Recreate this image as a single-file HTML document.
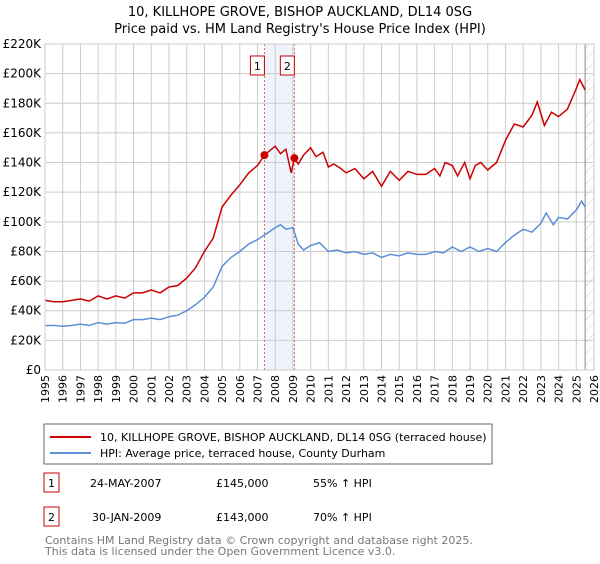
<!DOCTYPE html>
<html><head><meta charset="utf-8"><style>
body{margin:0;background:#fff;font-family:"DejaVu Sans","Liberation Sans",sans-serif;}
svg text{font-family:"DejaVu Sans","Liberation Sans",sans-serif;}
</style></head><body>
<svg id="chart" width="600" height="560" viewBox="0 0 600 560">
<text x="300" y="16" text-anchor="middle" font-size="13">10, KILLHOPE GROVE, BISHOP AUCKLAND, DL14 0SG</text>
<text x="300" y="33" text-anchor="middle" font-size="13">Price paid vs. HM Land Registry's House Price Index (HPI)</text>
<g id="grid"></g><g id="marks"></g>
<g>
<rect x="44" y="424" width="448" height="40" fill="#fff" stroke="#666"/>
<line x1="50" y1="437" x2="91" y2="437" stroke="#cc0000" stroke-width="2"/>
<text x="100" y="441" font-size="11">10, KILLHOPE GROVE, BISHOP AUCKLAND, DL14 0SG (terraced house)</text>
<line x1="50" y1="453" x2="91" y2="453" stroke="#5b8fd6" stroke-width="2"/>
<text x="100" y="457" font-size="11">HPI: Average price, terraced house, County Durham</text>
</g>
<g font-size="11">
<rect x="44" y="473" width="15" height="19" fill="#fff" stroke="#cc0000"/><text x="51.5" y="487" text-anchor="middle">1</text>
<text x="90" y="487">24-MAY-2007</text><text x="216" y="487">£145,000</text><text x="313" y="487">55% ↑ HPI</text>
<rect x="44" y="507" width="15" height="19" fill="#fff" stroke="#cc0000"/><text x="51.5" y="521" text-anchor="middle">2</text>
<text x="92" y="521">30-JAN-2009</text><text x="216" y="521">£143,000</text><text x="313" y="521">70% ↑ HPI</text>
</g>
<text x="45" y="544" font-size="11" fill="#777">Contains HM Land Registry data © Crown copyright and database right 2025.</text>
<text x="45" y="555" font-size="11" fill="#777">This data is licensed under the Open Government Licence v3.0.</text>
</svg>
<script>
const yearTicks=[1995,1996,1997,1998,1999,2000,2001,2002,2003,2004,2005,2006,2007,2008,2009,2010,2011,2012,2013,2014,2015,2016,2017,2018,2019,2020,2021,2022,2023,2024,2025,2026];
const priceTicks=[0,20,40,60,80,100,120,140,160,180,200,220];
const priceTickLabels=["£0","£20K","£40K","£60K","£80K","£100K","£120K","£140K","£160K","£180K","£200K","£220K"];
const hpiYears=[1995,1995.5,1996,1996.5,1997,1997.5,1998,1998.5,1999,1999.5,2000,2000.5,2001,2001.5,2002,2002.5,2003,2003.5,2004,2004.5,2005,2005.5,2006,2006.5,2007,2007.5,2008,2008.3,2008.6,2009,2009.3,2009.6,2010,2010.5,2011,2011.5,2012,2012.5,2013,2013.5,2014,2014.5,2015,2015.5,2016,2016.5,2017,2017.5,2018,2018.5,2019,2019.5,2020,2020.5,2021,2021.5,2022,2022.5,2023,2023.3,2023.7,2024,2024.5,2025,2025.3,2025.5];
const hpiValues=[30,30,29.5,30,31,30,32,31,32,31.5,34,34,35,34,36,37,40,44,49,56,70,76,80,85,88,92,96,98,95,96,85,81,84,86,80,81,79,80,78,79,76,78,77,79,78,78,80,79,83,80,83,80,82,80,86,91,95,93,99,106,98,103,102,108,114,110];
const priceYears=[1995,1995.5,1996,1996.5,1997,1997.5,1998,1998.5,1999,1999.5,2000,2000.5,2001,2001.5,2002,2002.5,2003,2003.5,2004,2004.5,2005,2005.5,2006,2006.5,2007,2007.39,2008,2008.3,2008.6,2008.9,2009.08,2009.3,2009.6,2010,2010.3,2010.7,2011,2011.3,2011.7,2012,2012.5,2013,2013.5,2014,2014.5,2015,2015.5,2016,2016.5,2017,2017.3,2017.6,2018,2018.3,2018.7,2019,2019.3,2019.6,2020,2020.5,2021,2021.5,2022,2022.5,2022.8,2023.2,2023.6,2024,2024.5,2025,2025.2,2025.5];
const priceValues=[47,46,46,47,48,46.5,50,48,50,48.5,52,52,54,52,56,57,62,69,80,89,110,118,125,133,138,145,151,146,149,133,143,139,145,150,144,147,137,139,136,133,136,129,134,124,134,128,134,132,132,136,131,140,138,131,140,129,138,140,135,140,155,166,164,172,181,165,174,171,176,190,196,189];
const saleYears=[2007.39,2009.08];
const saleValues=[145,143];
const saleLabels=["1","2"];
const L=45,R=594,T=44,B=370,X0=1995,X1=2026,YMAX=220;
const NS="http://www.w3.org/2000/svg";
const xs=y=>L+(y-X0)/(X1-X0)*(R-L);
const ys=v=>B-v/YMAX*(B-T);
function mk(tag,attrs,parent){const e=document.createElementNS(NS,tag);for(const k in attrs)e.setAttribute(k,attrs[k]);parent.appendChild(e);return e;}
const grid=document.getElementById('grid'),marks=document.getElementById('marks');
mk('rect',{x:L,y:T,width:R-L,height:B-T,fill:'#fff'},grid);
// shading
const sh=mk('rect',{x:xs(saleYears[0]),y:T,width:xs(saleYears[1])-xs(saleYears[0]),height:B-T,fill:'#eef3fc'},grid);


yearTicks.forEach(y=>{
 mk('line',{x1:xs(y),x2:xs(y),y1:T,y2:B,stroke:'#ccc'},grid);
 const t=mk('text',{x:0,y:0,'font-size':11,'text-anchor':'end',transform:`translate(${xs(y)+4},${B+5}) rotate(-90)`},grid);
 t.textContent=y;
 
 
});
priceTicks.forEach((v,i)=>{
 mk('line',{x1:L,x2:R,y1:ys(v),y2:ys(v),stroke:'#ccc'},grid);
 const t=mk('text',{x:L-4,y:ys(v)+4,'font-size':12,'text-anchor':'end'},grid);
 t.textContent=priceTickLabels[i];
 
 
});
// hatch future
const hx=xs(2025.5);
const defs=mk('defs',{},grid);
const pat=mk('pattern',{id:'hatch',width:8,height:8,patternUnits:'userSpaceOnUse',patternTransform:'rotate(45)'},defs);
mk('line',{x1:0,y1:0,x2:0,y2:8,stroke:'#ccc'},pat);
const hr=mk('rect',{x:hx,y:T,width:R-hx,height:B-T,fill:'url(#hatch)'},grid);


mk('line',{x1:hx,x2:hx,y1:T,y2:B,stroke:'#888'},grid);
saleYears.forEach((y,i)=>{
 mk('line',{x1:xs(y),x2:xs(y),y1:T,y2:B,stroke:'#e06060','stroke-dasharray':'2,2'},grid);
 const g=mk('g',{},grid);
 
 
 mk('rect',{x:xs(y)-14,y:56,width:14,height:19,fill:'#fff',stroke:'#cc0000'},g);
 const t=mk('text',{x:xs(y)-7,y:70,'font-size':11,'text-anchor':'middle'},g);t.textContent=saleLabels[i];
});
const path=(xsA,vs)=>xsA.map((y,i)=>(i?'L':'M')+xs(y).toFixed(1)+','+ys(vs[i]).toFixed(1)).join('');
const hp=mk('path',{d:path(hpiYears,hpiValues),fill:'none',stroke:'#5b8fd6','stroke-width':1.5},marks);


const pp=mk('path',{d:path(priceYears,priceValues),fill:'none',stroke:'#cc0000','stroke-width':1.5},marks);


saleYears.forEach((y,i)=>{
 const c=mk('circle',{cx:xs(y),cy:ys(saleValues[i]),r:4,fill:'#cc0000'},marks);
 
 
});
mk('rect',{x:L,y:T,width:R-L,height:B-T,fill:'none',stroke:'#ccc'},marks);
</script>
</body></html>
